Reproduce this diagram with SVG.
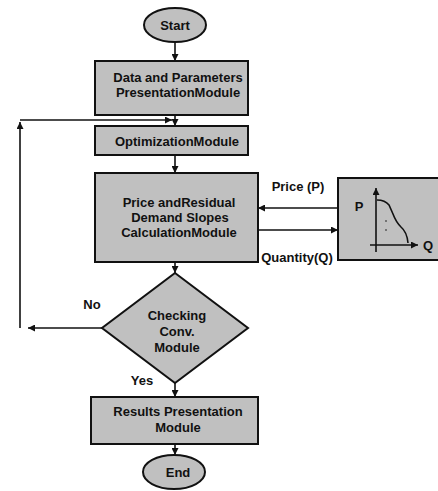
<svg xmlns="http://www.w3.org/2000/svg" width="438" height="491" viewBox="0 0 438 491">
<style>
.n{fill:#c0c0c0;stroke:#111;stroke-width:2}
.t{font-family:"Liberation Sans",Arial,sans-serif;font-weight:bold;font-size:13px;fill:#111;text-anchor:middle}
.c{fill:none;stroke:#111;stroke-width:1.6}
</style>
<defs>
<marker id="a" viewBox="0 0 10 10" refX="10" refY="5" markerWidth="9" markerHeight="7" orient="auto" markerUnits="userSpaceOnUse">
<path d="M0,0L10,5L0,10z" fill="#111"/>
</marker>
</defs>
<rect width="438" height="491" fill="#fff"/>
<g id="connectors">
<line class="c" x1="175" y1="43" x2="175" y2="61" marker-end="url(#a)"/>
<line class="c" x1="175" y1="115" x2="175" y2="126" marker-end="url(#a)"/>
<line class="c" x1="175" y1="155" x2="175" y2="173" marker-end="url(#a)"/>
<line class="c" x1="338" y1="208" x2="258" y2="208" marker-end="url(#a)"/>
<line class="c" x1="258" y1="230" x2="338" y2="230" marker-end="url(#a)"/>
<line class="c" x1="175" y1="262" x2="175" y2="273" marker-end="url(#a)"/>
<line class="c" x1="102" y1="328" x2="28" y2="328" marker-end="url(#a)"/>
<line class="c" x1="20" y1="328" x2="20" y2="122" marker-end="url(#a)"/>
<line class="c" x1="20" y1="120" x2="172" y2="120" marker-end="url(#a)"/>
<line class="c" x1="175" y1="383" x2="175" y2="397" marker-end="url(#a)"/>
<line class="c" x1="175" y1="444" x2="175" y2="455" marker-end="url(#a)"/>
<text class="t" x="298" y="191">Price (P)</text>
<text class="t" x="297" y="262">Quantity(Q)</text>
<text class="t" x="92" y="309">No</text>
<text class="t" x="142" y="385">Yes</text>
</g>
<g id="start">
<ellipse class="n" cx="175" cy="25" rx="31" ry="17"/>
<text class="t" x="175" y="30">Start</text>
</g>
<g id="data">
<rect class="n" x="95" y="61" width="153" height="54"/>
<text class="t" x="178" y="82">Data and Parameters</text>
<text class="t" x="178" y="97">PresentationModule</text>
</g>
<g id="optimization">
<rect class="n" x="95" y="126" width="153" height="29"/>
<text class="t" x="177" y="146">OptimizationModule</text>
</g>
<g id="price">
<rect class="n" x="95" y="173" width="163" height="89"/>
<text class="t" x="179" y="207">Price andResidual</text>
<text class="t" x="180" y="222">Demand Slopes</text>
<text class="t" x="179" y="237">CalculationModule</text>
</g>
<g id="market">
<rect class="n" x="338" y="178" width="102" height="82"/>
<line class="c" x1="376" y1="252" x2="376" y2="188" marker-end="url(#a)"/>
<line class="c" x1="370" y1="245" x2="418" y2="245" marker-end="url(#a)"/>
<path d="M377,200 Q385,200 389,205 L393,214 Q396,222 401,227 Q407,232 408,243" fill="none" stroke="#111" stroke-width="1.6"/>
<circle cx="386" cy="221" r="0.8" fill="#111"/>
<circle cx="386" cy="230" r="0.8" fill="#111"/>
<text class="t" x="359" y="211">P</text>
<text class="t" x="428" y="250">Q</text>
</g>
<g id="check">
<polygon class="n" points="175,273 248,328 175,383 102,328"/>
<text class="t" x="177" y="320">Checking</text>
<text class="t" x="177" y="336">Conv.</text>
<text class="t" x="177" y="352">Module</text>
</g>
<g id="results">
<rect class="n" x="91" y="397" width="167" height="47"/>
<text class="t" x="178" y="416">Results Presentation</text>
<text class="t" x="178" y="432">Module</text>
</g>
<g id="end">
<ellipse class="n" cx="174" cy="472" rx="31" ry="17"/>
<text class="t" x="178" y="477">End</text>
</g>
</svg>
